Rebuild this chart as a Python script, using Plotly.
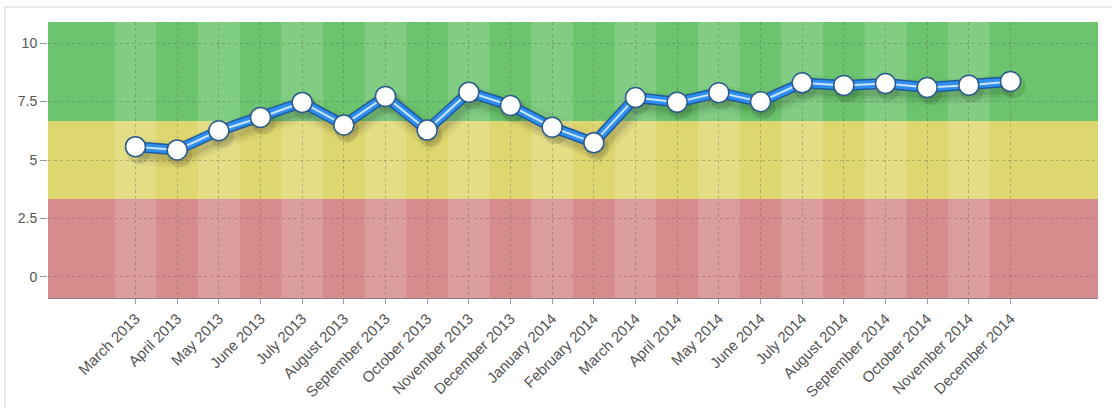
import plotly.graph_objects as go

months = ["March 2013", "April 2013", "May 2013", "June 2013", "July 2013",
          "August 2013", "September 2013", "October 2013", "November 2013",
          "December 2013", "January 2014", "February 2014", "March 2014",
          "April 2014", "May 2014", "June 2014", "July 2014", "August 2014",
          "September 2014", "October 2014", "November 2014", "December 2014"]
scores = [5.57, 5.43, 6.25, 6.82, 7.46, 6.5, 7.72, 6.28, 7.9, 7.33, 6.4, 5.74,
          7.67, 7.47, 7.88, 7.49, 8.3, 8.19, 8.27, 8.1, 8.2, 8.36]
y_ticks = [0, 2.5, 5, 7.5, 10]
y_tick_text = ["0", "2.5", "5", "7.5", "10"]
band_edges = [-0.9, 10 / 3, 20 / 3, 10.9]

X_RANGE = [-2.1, 23.1]
Y_RANGE = [-0.9, 10.9]
W, H = 1112, 408
ML, MR, MT, MB = 48, 14, 22, 110
PW, PH = W - ML - MR, H - MT - MB

band_dark = ["#D68C8C", "#DED770", "#6CC56E"]
font = dict(family="Liberation Sans, Arial, sans-serif", color="#555555")

fig = go.Figure()

shapes = []
for i in range(3):
    shapes.append(dict(type="rect", xref="paper", yref="y", x0=0, x1=1,
                       y0=band_edges[i], y1=band_edges[i + 1],
                       fillcolor=band_dark[i], line_width=0, layer="below"))
for i in range(0, len(months), 2):
    shapes.append(dict(type="rect", xref="x", yref="paper", x0=i - 0.5, x1=i + 0.5,
                       y0=0, y1=1, fillcolor="rgba(255,255,255,0.15)",
                       line_width=0, layer="below"))
shapes.append(dict(type="rect", xref="paper", yref="paper",
                   x0=(5 - ML) / PW, x1=(W + 20 - ML) / PW,
                   y0=-(H + 20 - MT - PH) / PH, y1=1 + (MT - 7) / PH,
                   line=dict(color="#d4d4d4", width=1), fillcolor="rgba(0,0,0,0)",
                   layer="below"))

# shadow traces on shifted overlay axes (x2/y2)
for w, a in [(26, 0.04), (19, 0.06), (13, 0.08)]:
    fig.add_trace(go.Scatter(x=months, y=scores, mode="lines", xaxis="x2", yaxis="y2",
                             line=dict(color=f"rgba(0,0,0,{a})", width=w),
                             hoverinfo="skip", showlegend=False))
fig.add_trace(go.Scatter(x=months, y=scores, mode="markers", xaxis="x2", yaxis="y2",
                         marker=dict(size=24, color="rgba(0,0,0,0.10)", line_width=0),
                         hoverinfo="skip", showlegend=False))

# main line on unshifted overlay axes (x3/y3), drawn above the shadow
fig.add_trace(go.Scatter(x=months, y=scores, mode="lines", xaxis="x3", yaxis="y3",
                         line=dict(color="#1f5a9e", width=11), showlegend=False, hoverinfo="skip"))
fig.add_trace(go.Scatter(x=months, y=scores, mode="lines", xaxis="x3", yaxis="y3",
                         line=dict(color="#2f8ff0", width=8), showlegend=False, hoverinfo="skip"))
fig.add_trace(go.Scatter(x=months, y=scores, mode="lines", xaxis="x3", yaxis="y3",
                         line=dict(color="rgba(255,255,255,0.75)", width=2),
                         showlegend=False, hoverinfo="skip"))
fig.add_trace(go.Scatter(x=months, y=scores, mode="markers", xaxis="x3", yaxis="y3",
                         marker=dict(size=20, color="white",
                                     line=dict(color="#2b5a8c", width=1.5)),
                         showlegend=False))
fig.add_trace(go.Scatter(x=months, y=scores, mode="lines", line=dict(width=0),
                         opacity=0, hoverinfo="skip", showlegend=False))

dx = 3 / (PW / (X_RANGE[1] - X_RANGE[0]))
dy = 5 / (PH / (Y_RANGE[1] - Y_RANGE[0]))

fig.update_layout(
    width=W, height=H,
    margin=dict(l=ML, r=MR, t=MT, b=MB, autoexpand=False),
    paper_bgcolor="white", plot_bgcolor="white",
    font=font,
    shapes=shapes,
    xaxis=dict(type="category", categoryarray=months, range=X_RANGE,
               tickangle=-45, tickfont=dict(size=15, **font), automargin=False,
               showgrid=True, gridcolor="rgba(90,90,90,0.35)", griddash="3px,3px",
               gridwidth=1, ticks="outside", ticklen=5, tickcolor="#999999",
               showline=True, linecolor="#8a7a7a", linewidth=1, zeroline=False,
               fixedrange=True),
    yaxis=dict(range=Y_RANGE, tickvals=y_ticks, ticktext=y_tick_text,
               tickfont=dict(size=14, **font), automargin=False,
               showgrid=True, gridcolor="rgba(90,90,90,0.35)", griddash="3px,3px",
               gridwidth=1, ticks="outside", ticklen=7, tickcolor="#999999",
               showline=False, zeroline=False, fixedrange=True),
    xaxis2=dict(type="category", categoryarray=months, overlaying="x",
                range=[X_RANGE[0] - dx, X_RANGE[1] - dx], visible=False, fixedrange=True),
    yaxis2=dict(overlaying="y", range=[Y_RANGE[0] + dy, Y_RANGE[1] + dy],
                visible=False, fixedrange=True),
    xaxis3=dict(type="category", categoryarray=months, overlaying="x",
                range=X_RANGE, visible=False, fixedrange=True),
    yaxis3=dict(overlaying="y", range=Y_RANGE, visible=False, fixedrange=True),
    showlegend=False,
)

fig.write_html("out.html", config={"displayModeBar": False},
               post_script="document.body.style.margin='0px';")
